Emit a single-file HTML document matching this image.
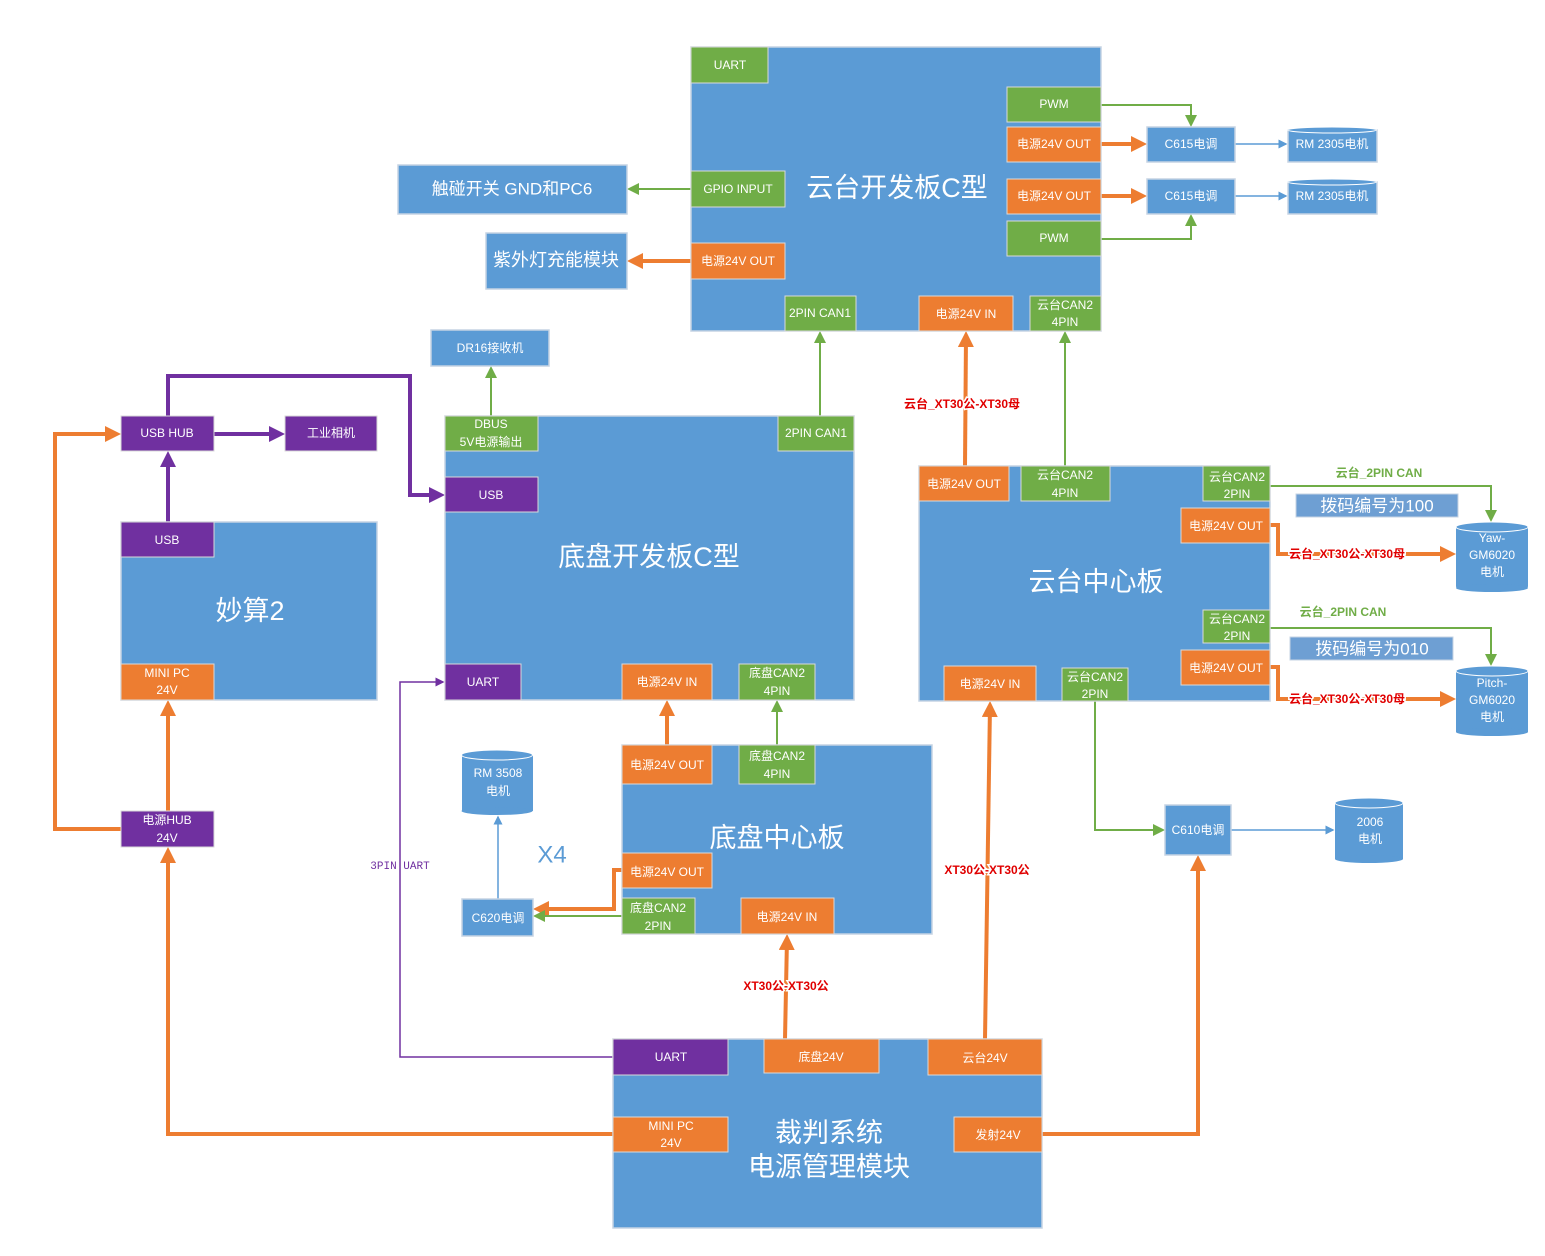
<!DOCTYPE html>
<html><head><meta charset="utf-8"><style>
html,body{margin:0;padding:0;background:#fff;}
svg{display:block;font-family:"Liberation Sans","Noto Sans CJK SC",sans-serif;}
.b{fill:#5B9BD5;stroke:#c5d3e3;stroke-width:1.5}
.o{fill:#ED7D31;stroke:#d9d9d9;stroke-width:1}
.g{fill:#70AD47;stroke:#d9d9d9;stroke-width:1}
.p{fill:#7030A0;stroke:#d9d9d9;stroke-width:1}
text{fill:#fff;font-size:12px;text-anchor:middle;dominant-baseline:central}
.t{font-size:27px}
.lo{fill:none;stroke:#ED7D31;stroke-width:4}
.lg{fill:none;stroke:#70AD47;stroke-width:2}
.lb{fill:none;stroke:#5B9BD5;stroke-width:1.5}
.lp{fill:none;stroke:#7030A0;stroke-width:4}
.lpt{fill:none;stroke:#7030A0;stroke-width:1.5}
.red{fill:#e00000;font-size:12px;font-weight:bold;font-family:"Liberation Sans Narrow","Liberation Sans","Noto Sans CJK SC",sans-serif;stroke:#fff;stroke-width:3;paint-order:stroke}
.grn{fill:#70AD47;font-size:12px;font-weight:bold;font-family:"Liberation Sans Narrow","Liberation Sans","Noto Sans CJK SC",sans-serif}
</style></head><body>
<svg width="1545" height="1256" viewBox="0 0 1545 1256">
<defs>
<marker id="ao" markerWidth="4" markerHeight="4" refX="3" refY="2" orient="auto" markerUnits="strokeWidth"><path d="M0,0L4,2L0,4z" fill="#ED7D31"/></marker>
<marker id="ag" markerWidth="6" markerHeight="6" refX="5" refY="3" orient="auto" markerUnits="strokeWidth"><path d="M0,0L6,3L0,6z" fill="#70AD47"/></marker>
<marker id="ab" markerWidth="6" markerHeight="6" refX="5" refY="3" orient="auto" markerUnits="strokeWidth"><path d="M0,0L6,3L0,6z" fill="#5B9BD5"/></marker>
<marker id="ap" markerWidth="4" markerHeight="4" refX="3" refY="2" orient="auto" markerUnits="strokeWidth"><path d="M0,0L4,2L0,4z" fill="#7030A0"/></marker>
<marker id="apt" markerWidth="6" markerHeight="6" refX="5" refY="3" orient="auto" markerUnits="strokeWidth"><path d="M0,0L6,3L0,6z" fill="#7030A0"/></marker>
</defs>

<path class="lo" marker-end="url(#ao)" d="M1101,144H1143"/>
<path class="lo" marker-end="url(#ao)" d="M1101,196H1143"/>
<path class="lo" marker-end="url(#ao)" d="M691,261H631"/>
<path class="lo" marker-end="url(#ao)" d="M965,466L966,335"/>
<path class="lo" marker-end="url(#ao)" d="M1270,525H1278V554H1452"/>
<path class="lo" marker-end="url(#ao)" d="M1270,667H1278V699H1452"/>
<path class="lo" marker-end="url(#ao)" d="M667,745V704"/>
<path class="lo" marker-end="url(#ao)" d="M622,870H614V909H537"/>
<path class="lo" marker-end="url(#ao)" d="M785,1039L787,938"/>
<path class="lo" marker-end="url(#ao)" d="M985,1039L990,705"/>
<path class="lo" marker-end="url(#ao)" d="M1042,1134H1198V859"/>
<path class="lo" marker-end="url(#ao)" d="M613,1134H168V851"/>
<path class="lo" marker-end="url(#ao)" d="M168,811V704"/>
<path class="lo" marker-end="url(#ao)" d="M121,829H55V434H117"/>

<path class="lg" marker-end="url(#ag)" d="M1101,105H1191V125"/>
<path class="lg" marker-end="url(#ag)" d="M1101,239H1191V216"/>
<path class="lg" marker-end="url(#ag)" d="M691,189H629"/>
<path class="lg" marker-end="url(#ag)" d="M491,416V368"/>
<path class="lg" marker-end="url(#ag)" d="M820,416V333"/>
<path class="lg" marker-end="url(#ag)" d="M1065,466V333"/>
<path class="lg" marker-end="url(#ag)" d="M777,745V702"/>
<path class="lg" marker-end="url(#ag)" d="M622,916H535"/>
<path class="lg" marker-end="url(#ag)" d="M1270,486H1491V520"/>
<path class="lg" marker-end="url(#ag)" d="M1270,628H1491V664"/>
<path class="lg" marker-end="url(#ag)" d="M1095,701V830H1163"/>

<path class="lb" marker-end="url(#ab)" d="M1235,144H1286"/>
<path class="lb" marker-end="url(#ab)" d="M1235,196H1286"/>
<path class="lb" marker-end="url(#ab)" d="M498,899V817"/>
<path class="lb" marker-end="url(#ab)" d="M1231,830H1333"/>

<path class="lp" marker-end="url(#ap)" d="M168,522V455"/>
<path class="lp" marker-end="url(#ap)" d="M214,434H281"/>
<path class="lp" marker-end="url(#ap)" d="M168,416V376H410V495H441"/>
<path class="lpt" marker-end="url(#apt)" d="M613,1057H400V682H443"/>

<rect class="b" x="691" y="47" width="410" height="284"/>
<text class="t" x="897" y="188">云台开发板C型</text>
<rect class="g" x="691" y="47" width="77" height="36"/><text x="730" y="65">UART</text>
<rect class="g" x="1007" y="87" width="94" height="35"/><text x="1054" y="104">PWM</text>
<rect class="o" x="1007" y="127" width="94" height="35"/><text x="1054" y="144">电源24V OUT</text>
<rect class="o" x="1007" y="179" width="94" height="35"/><text x="1054" y="196">电源24V OUT</text>
<rect class="g" x="1007" y="221" width="94" height="35"/><text x="1054" y="238">PWM</text>
<rect class="g" x="691" y="171" width="94" height="36"/><text x="738" y="189">GPIO INPUT</text>
<rect class="o" x="691" y="243" width="94" height="36"/><text x="738" y="261">电源24V OUT</text>
<rect class="g" x="785" y="296" width="71" height="35"/><text x="820" y="313">2PIN CAN1</text>
<rect class="o" x="919" y="296" width="94" height="35"/><text x="966" y="314">电源24V IN</text>
<rect class="g" x="1030" y="296" width="71" height="35"/><text x="1065" y="305">云台CAN2</text><text x="1065" y="322">4PIN</text>

<rect class="b" x="1147" y="127" width="88" height="35"/><text x="1191" y="144">C615电调</text>
<rect class="b" x="1147" y="179" width="88" height="35"/><text x="1191" y="196">C615电调</text>
<g><rect class="b" x="1288" y="130" width="89" height="32" stroke="none"/><ellipse cx="1332" cy="130" rx="44.5" ry="3" fill="#5B9BD5" stroke="#fff"/><text x="1332" y="144">RM 2305电机</text></g>
<g><rect class="b" x="1288" y="182" width="89" height="32" stroke="none"/><ellipse cx="1332" cy="182" rx="44.5" ry="3" fill="#5B9BD5" stroke="#fff"/><text x="1332" y="196">RM 2305电机</text></g>

<rect class="b" x="398" y="165" width="229" height="49"/><text x="512" y="189" style="font-size:17px">触碰开关 GND和PC6</text>
<rect class="b" x="486" y="233" width="141" height="56"/><text x="556" y="260" style="font-size:18px">紫外灯充能模块</text>
<rect class="b" x="431" y="330" width="118" height="36"/><text x="490" y="348">DR16接收机</text>

<rect class="b" x="445" y="416" width="409" height="284"/>
<text class="t" x="649" y="557">底盘开发板C型</text>
<rect class="g" x="445" y="416" width="93" height="35"/><text x="491" y="424">DBUS</text><text x="491" y="442">5V电源输出</text>
<rect class="g" x="778" y="416" width="76" height="35"/><text x="816" y="433">2PIN CAN1</text>
<rect class="p" x="445" y="477" width="93" height="35"/><text x="491" y="495">USB</text>
<rect class="p" x="445" y="664" width="76" height="36"/><text x="483" y="682">UART</text>
<rect class="o" x="622" y="664" width="90" height="36"/><text x="667" y="682">电源24V IN</text>
<rect class="g" x="739" y="664" width="76" height="36"/><text x="777" y="673">底盘CAN2</text><text x="777" y="691">4PIN</text>

<rect class="p" x="121" y="416" width="93" height="35"/><text x="167" y="433">USB HUB</text>
<rect class="p" x="285" y="416" width="92" height="35"/><text x="331" y="433">工业相机</text>
<rect class="b" x="121" y="522" width="256" height="178"/><text class="t" x="250" y="611">妙算2</text>
<rect class="p" x="121" y="522" width="93" height="35"/><text x="167" y="540">USB</text>
<rect class="o" x="121" y="664" width="93" height="36"/><text x="167" y="673">MINI PC</text><text x="167" y="690">24V</text>
<rect class="p" x="121" y="811" width="93" height="36"/><text x="167" y="820">电源HUB</text><text x="167" y="838">24V</text>

<rect class="b" x="919" y="466" width="351" height="235"/>
<text class="t" x="1096" y="582">云台中心板</text>
<rect class="o" x="919" y="466" width="90" height="35"/><text x="964" y="484">电源24V OUT</text>
<rect class="g" x="1021" y="466" width="89" height="35"/><text x="1065" y="475">云台CAN2</text><text x="1065" y="493">4PIN</text>
<rect class="g" x="1203" y="466" width="67" height="35"/><text x="1237" y="477">云台CAN2</text><text x="1237" y="494">2PIN</text>
<rect class="o" x="1181" y="508" width="89" height="35"/><text x="1226" y="526">电源24V OUT</text>
<rect class="g" x="1203" y="610" width="67" height="33"/><text x="1237" y="619">云台CAN2</text><text x="1237" y="636">2PIN</text>
<rect class="o" x="1181" y="650" width="89" height="35"/><text x="1226" y="668">电源24V OUT</text>
<rect class="o" x="944" y="666" width="92" height="35"/><text x="990" y="684">电源24V IN</text>
<rect class="g" x="1062" y="668" width="66" height="33"/><text x="1095" y="677">云台CAN2</text><text x="1095" y="694">2PIN</text>

<rect x="1296" y="494" width="162" height="23" fill="#6E9FD3" stroke="#c5d3e3"/><text x="1377" y="506" style="font-size:17px">拨码编号为100</text>
<rect x="1290" y="637" width="163" height="23" fill="#6E9FD3" stroke="#c5d3e3"/><text x="1372" y="649" style="font-size:17px">拨码编号为010</text>

<g><rect x="1456" y="527" width="72" height="61" rx="2" fill="#5B9BD5"/><ellipse cx="1492" cy="588" rx="36" ry="4" fill="#5B9BD5"/><ellipse cx="1492" cy="527" rx="36" ry="5" fill="#5B9BD5" stroke="#fff"/><text x="1492" y="538">Yaw-</text><text x="1492" y="555">GM6020</text><text x="1492" y="572">电机</text></g>
<g><rect x="1456" y="671" width="72" height="61" fill="#5B9BD5"/><ellipse cx="1492" cy="732" rx="36" ry="4" fill="#5B9BD5"/><ellipse cx="1492" cy="671" rx="36" ry="5" fill="#5B9BD5" stroke="#fff"/><text x="1492" y="683">Pitch-</text><text x="1492" y="700">GM6020</text><text x="1492" y="717">电机</text></g>

<rect class="b" x="622" y="745" width="310" height="189"/>
<text class="t" x="777" y="838">底盘中心板</text>
<rect class="o" x="622" y="745" width="90" height="39"/><text x="667" y="765">电源24V OUT</text>
<rect class="g" x="739" y="745" width="76" height="39"/><text x="777" y="756">底盘CAN2</text><text x="777" y="774">4PIN</text>
<rect class="o" x="622" y="853" width="90" height="35"/><text x="667" y="872">电源24V OUT</text>
<rect class="g" x="622" y="898" width="73" height="36"/><text x="658" y="908">底盘CAN2</text><text x="658" y="926">2PIN</text>
<rect class="o" x="741" y="898" width="93" height="36"/><text x="787" y="917">电源24V IN</text>

<g><rect x="462" y="755" width="71" height="56" fill="#5B9BD5"/><ellipse cx="497" cy="811" rx="35.5" ry="4" fill="#5B9BD5"/><ellipse cx="497" cy="755" rx="35.5" ry="5" fill="#5B9BD5" stroke="#fff"/><text x="498" y="773">RM 3508</text><text x="498" y="791">电机</text></g>
<rect class="b" x="462" y="899" width="71" height="37"/><text x="498" y="918">C620电调</text>
<text x="552" y="855" style="fill:#5B9BD5;font-size:24px">X4</text>

<rect class="b" x="1165" y="805" width="66" height="50"/><text x="1198" y="830">C610电调</text>
<g><rect x="1335" y="803" width="68" height="56" fill="#5B9BD5"/><ellipse cx="1369" cy="859" rx="34" ry="4" fill="#5B9BD5"/><ellipse cx="1369" cy="803" rx="34" ry="5" fill="#5B9BD5" stroke="#fff"/><text x="1370" y="822">2006</text><text x="1370" y="839">电机</text></g>

<rect class="b" x="613" y="1039" width="429" height="189"/>
<text class="t" x="829" y="1133">裁判系统</text><text class="t" x="829" y="1167">电源管理模块</text>
<rect class="p" x="613" y="1039" width="115" height="36"/><text x="671" y="1057">UART</text>
<rect class="o" x="764" y="1039" width="115" height="34"/><text x="821" y="1057">底盘24V</text>
<rect class="o" x="928" y="1039" width="114" height="36"/><text x="985" y="1058">云台24V</text>
<rect class="o" x="613" y="1117" width="115" height="35"/><text x="671" y="1126">MINI PC</text><text x="671" y="1143">24V</text>
<rect class="o" x="954" y="1117" width="88" height="35"/><text x="998" y="1135">发射24V</text>

<text class="red" x="962" y="404">云台_XT30公-XT30母</text>
<text class="red" x="1347" y="554">云台_XT30公-XT30母</text>
<text class="red" x="1347" y="699">云台_XT30公-XT30母</text>
<text class="red" x="786" y="986">XT30公-XT30公</text>
<text class="red" x="987" y="870">XT30公-XT30公</text>
<text class="grn" x="1379" y="473">云台_2PIN CAN</text>
<text class="grn" x="1343" y="612">云台_2PIN CAN</text>
<text x="400" y="867" style="fill:#7030A0;font-size:11px;font-family:'Liberation Mono','Noto Sans CJK SC',monospace;stroke:#fff;stroke-width:3;paint-order:stroke">3PIN UART</text>
</svg>
</body></html>
